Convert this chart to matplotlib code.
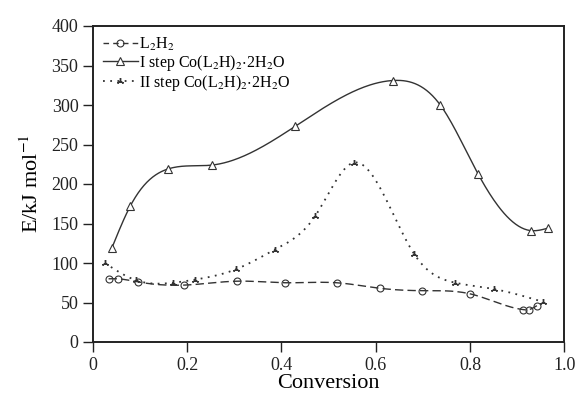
import numpy as np
import matplotlib
matplotlib.use('Agg')
import matplotlib.pyplot as plt

# activation energy vs conversion
conv_l2h2 = [0.033, 0.052, 0.096, 0.193, 0.306, 0.408, 0.517, 0.609, 0.698, 0.800, 0.913, 0.925, 0.942]
e_l2h2 = [80, 80, 76, 72, 77, 75, 75, 68, 65, 61, 41, 41, 46]

conv_step1 = [0.040, 0.079, 0.159, 0.253, 0.429, 0.636, 0.737, 0.817, 0.929, 0.965]
e_step1 = [119, 172, 219, 224, 273, 331, 300, 213, 141, 144]

conv_step2 = [0.025, 0.092, 0.170, 0.217, 0.303, 0.386, 0.471, 0.553, 0.682, 0.769, 0.851, 0.954]
e_step2 = [100, 78, 75, 79, 92, 117, 159, 227, 111, 75, 67, 51]


def spline(x, y, n=300):
    # natural cubic spline through the points
    x = np.asarray(x, float)
    y = np.asarray(y, float)
    k = len(x)
    h = np.diff(x)
    A = np.zeros((k, k))
    b = np.zeros(k)
    A[0, 0] = A[-1, -1] = 1
    for i in range(1, k - 1):
        A[i, i - 1] = h[i - 1]
        A[i, i] = 2 * (h[i - 1] + h[i])
        A[i, i + 1] = h[i]
        b[i] = 3 * ((y[i + 1] - y[i]) / h[i] - (y[i] - y[i - 1]) / h[i - 1])
    c = np.linalg.solve(A, b)
    xs = np.linspace(x[0], x[-1], n)
    idx = np.clip(np.searchsorted(x, xs) - 1, 0, k - 2)
    dx = xs - x[idx]
    hh = h[idx]
    bb = (y[idx + 1] - y[idx]) / hh - hh * (2 * c[idx] + c[idx + 1]) / 3
    dd = (c[idx + 1] - c[idx]) / (3 * hh)
    ys = y[idx] + bb * dx + c[idx] * dx ** 2 + dd * dx ** 3
    return xs, ys


plt.rcParams['font.family'] = 'Liberation Serif'
plt.rcParams['mathtext.fontset'] = 'stix'

fig = plt.figure(figsize=(5.76, 4.0), dpi=100)
ax = fig.add_axes([0.1615, 0.145, 0.818, 0.79])

col = '#333333'
xs, ys = spline(conv_l2h2, e_l2h2)
ax.plot(xs, ys, color=col, lw=1.0, ls=(0, (6, 3)))
ax.plot(conv_l2h2, e_l2h2, ls='none', marker='o', ms=5, mfc='none', mec=col, mew=0.8)
ax.plot([], [], color=col, lw=1.0, ls=(0, (4, 3)), marker='o', ms=5, mfc='none', mew=0.8,
        label='L$_2$H$_2$')

xs, ys = spline(conv_step1, e_step1)
ax.plot(xs, ys, color=col, lw=1.0)
ax.plot(conv_step1, e_step1, ls='none', marker='^', ms=6, mfc='white', mec=col, mew=0.8)
ax.plot([], [], color=col, lw=1.0, marker='^', ms=6, mfc='white', mew=0.8,
        label='I step Co(L$_2$H)$_2$$\\cdot$2H$_2$O')

xs, ys = spline(conv_step2, e_step2)
ax.plot(xs, ys, color=col, lw=1.3, ls=(0, (1, 3)))
ax.plot(conv_step2, e_step2, ls='none', marker=(3, 2, 0), ms=5, mec=col, mew=1.0)
ax.plot([], [], color=col, lw=1.3, ls=(0, (1, 3)), marker=(3, 2, 0), ms=5, mew=1.0,
        label='II step Co(L$_2$H)$_2$$\\cdot$2H$_2$O')

ax.set_xlim(0, 1.0)
ax.set_ylim(0, 400)
ax.set_xticks([0, 0.2, 0.4, 0.6, 0.8, 1.0])
ax.set_xticklabels(['0', '0.2', '0.4', '0.6', '0.8', '1.0'])
ax.set_yticks(range(0, 401, 50))
ax.tick_params(direction='out', length=7, width=1.0, labelsize=13, colors='#222222')
for s in ax.spines.values():
    s.set_linewidth(1.4)
    s.set_color('#222222')

ax.set_xlabel('Conversion', fontsize=16, labelpad=0)
ax.set_ylabel('E/kJ mol$^{-1}$', fontsize=16, labelpad=6)

ax.legend(loc='upper left', frameon=False, fontsize=11.5, handlelength=2.2,
          handletextpad=0.1, labelspacing=0.0, borderaxespad=0.2)

fig.savefig('out.png', dpi=100)
